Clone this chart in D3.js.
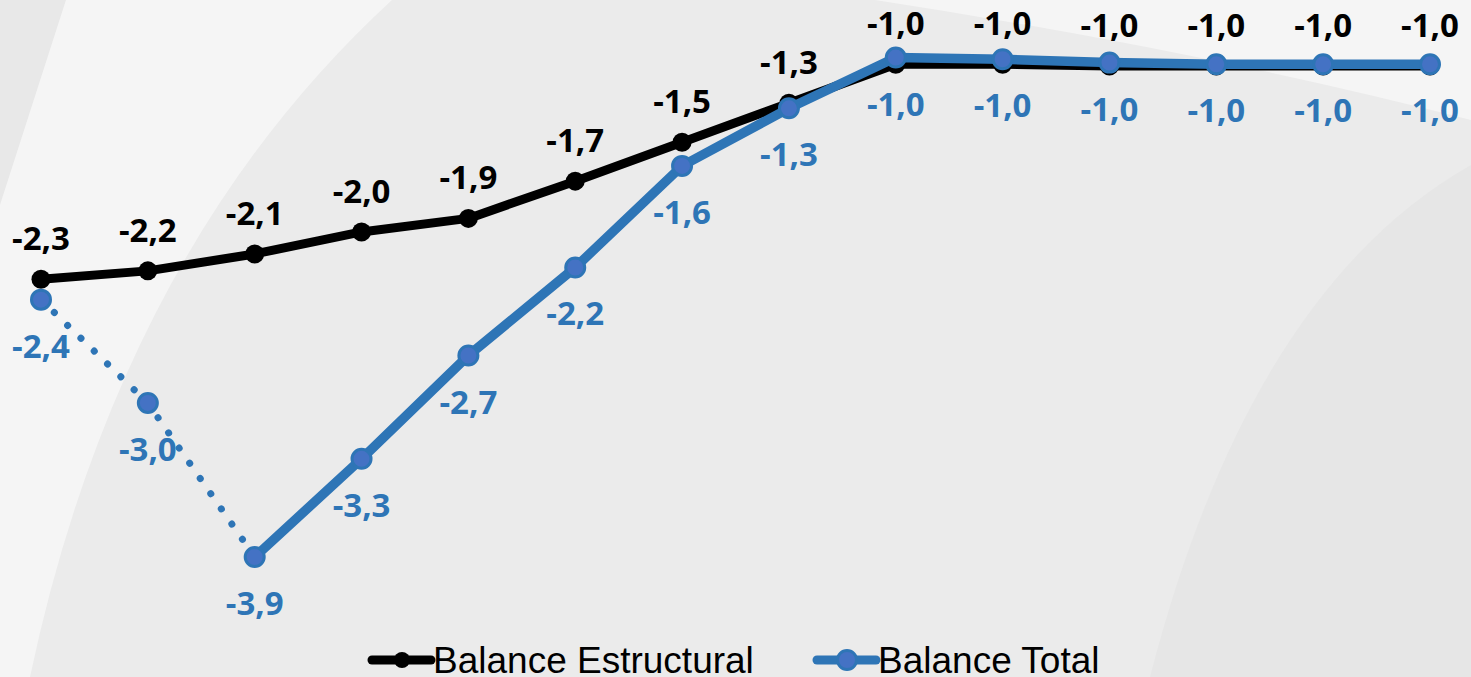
<!DOCTYPE html>
<html>
<head>
<meta charset="utf-8">
<script src="https://cdn.jsdelivr.net/npm/d3@7"></script>
<style>
  html, body { margin: 0; padding: 0; background: #ebebeb; overflow: hidden; }
</style>
</head>
<body>
<div id="chart"></div>
<script>
// Width and height of the SVG
const width = 1471;
const height = 677;

// Data (14 periods, no x labels shown)
const periods = [0, 1, 2, 3, 4, 5, 6, 7, 8, 9, 10, 11, 12, 13];
const estructural = [-2.26, -2.21, -2.11, -1.98, -1.90, -1.68, -1.45, -1.22, -0.99, -0.99, -1.00, -1.00, -1.00, -1.00];
const total = [-2.38, -2.99, -3.90, -3.32, -2.71, -2.19, -1.59, -1.25, -0.95, -0.96, -0.98, -0.99, -0.99, -0.99];
const estructuralLabels = ["-2,3", "-2,2", "-2,1", "-2,0", "-1,9", "-1,7", "-1,5", "-1,3", "-1,0", "-1,0", "-1,0", "-1,0", "-1,0", "-1,0"];
const totalLabels = ["-2,4", "-3,0", "-3,9", "-3,3", "-2,7", "-2,2", "-1,6", "-1,3", "-1,0", "-1,0", "-1,0", "-1,0", "-1,0", "-1,0"];
const seriesNames = ["Balance Estructural", "Balance Total"];
const dottedUntil = 2; // total is dotted for the first periods

const black = "#000000";
const blue = "#2e75b6";
const blueFill = "#4472c4";
const labelFont = "'Open Sans', Lato, sans-serif";

const svg = d3.select("#chart")
    .append("svg")
    .attr("width", width)
    .attr("height", height);

// background shapes
svg.append("rect").attr("width", width).attr("height", height).attr("fill", "#ebebeb");
svg.append("path").attr("d", "M0,0 L66,0 L0,205 Z").attr("fill", "#e8e8e8");
svg.append("path").attr("d", "M66,0 L392,0 Q120,250 30,677 L0,677 L0,205 Z").attr("fill", "#f5f5f5");
svg.append("path").attr("d", "M875,0 L1471,0 L1471,120 Q1200,50 875,0 Z").attr("fill", "#f5f5f5");
svg.append("path").attr("d", "M1471,165 Q1250,290 1150,677 L1471,677 Z").attr("fill", "#e6e6e6");

// scales
const x = d3.scalePoint().domain(periods).range([41, 1430]);
const y = d3.scaleLinear().domain([-1, -3.9]).range([66, 557]);

const line = d3.line()
    .x(d => x(d.p))
    .y(d => y(d.v));

const estData = periods.map((p, i) => ({ p: p, v: estructural[i], label: estructuralLabels[i] }));
const totData = periods.map((p, i) => ({ p: p, v: total[i], label: totalLabels[i] }));

// black line
svg.append("path")
    .datum(estData)
    .attr("d", line)
    .attr("fill", "none")
    .attr("stroke", black)
    .attr("stroke-width", 9)
    .attr("stroke-linejoin", "round");

svg.selectAll("circle.est")
    .data(estData)
    .enter().append("circle")
    .attr("class", "est")
    .attr("cx", d => x(d.p))
    .attr("cy", d => y(d.v))
    .attr("r", 9.5)
    .attr("fill", black);

// blue line: dotted part then solid part
svg.append("path")
    .datum(totData.slice(0, dottedUntil + 1))
    .attr("d", line)
    .attr("fill", "none")
    .attr("stroke", blue)
    .attr("stroke-width", 7)
    .attr("stroke-linecap", "round")
    .attr("stroke-dasharray", "0.1 18.4");

svg.append("path")
    .datum(totData.slice(dottedUntil))
    .attr("d", line)
    .attr("fill", "none")
    .attr("stroke", blue)
    .attr("stroke-width", 9.5)
    .attr("stroke-linejoin", "round");

svg.selectAll("circle.tot")
    .data(totData)
    .enter().append("circle")
    .attr("class", "tot")
    .attr("cx", d => x(d.p))
    .attr("cy", d => y(d.v))
    .attr("r", 9.5)
    .attr("fill", blueFill)
    .attr("stroke", blue)
    .attr("stroke-width", 3);

// data labels
svg.selectAll("text.est")
    .data(estData)
    .enter().append("text")
    .attr("class", "est")
    .attr("x", d => x(d.p))
    .attr("y", d => y(d.v) - 29)
    .attr("text-anchor", "middle")
    .style("font-family", labelFont)
    .style("font-weight", 700)
    .style("font-size", "33px")
    .attr("fill", black)
    .text(d => d.label);

svg.selectAll("text.tot")
    .data(totData)
    .enter().append("text")
    .attr("class", "tot")
    .attr("x", d => x(d.p))
    .attr("y", d => y(d.v) + 58)
    .attr("text-anchor", "middle")
    .style("font-family", labelFont)
    .style("font-weight", 700)
    .style("font-size", "33px")
    .attr("fill", blue)
    .text(d => d.label);

// legend
const legend = [
    { name: seriesNames[0], x0: 372, stroke: black, fill: black, r: 8, sw: 9 },
    { name: seriesNames[1], x0: 817, stroke: blue, fill: blueFill, r: 9.5, sw: 9 }
];
const ly = 660;
legend.forEach(l => {
    const g = svg.append("g");
    g.append("line")
        .attr("x1", l.x0).attr("x2", l.x0 + 59)
        .attr("y1", ly).attr("y2", ly)
        .attr("stroke", l.stroke)
        .attr("stroke-width", l.sw)
        .attr("stroke-linecap", "round");
    g.append("circle")
        .attr("cx", l.x0 + 30).attr("cy", ly)
        .attr("r", l.r)
        .attr("fill", l.fill)
        .attr("stroke", l.stroke)
        .attr("stroke-width", l.stroke == blue ? 3 : 0);
    g.append("text")
        .attr("x", l.x0 + 61)
        .attr("y", 673)
        .style("font-family", "'Liberation Sans', Arial, sans-serif")
        .style("font-size", "37px")
        .attr("fill", "#000")
        .text(l.name);
});
</script>
</body>
</html>
